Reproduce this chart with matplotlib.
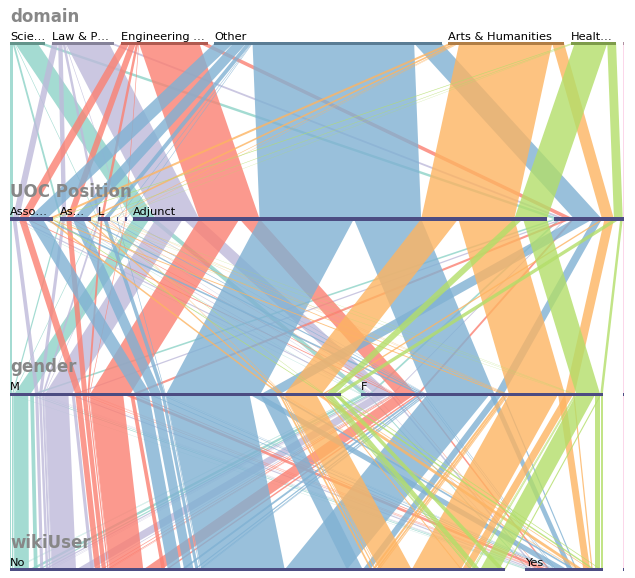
import numpy as np
import matplotlib.pyplot as plt
from matplotlib.patches import Polygon, Rectangle
from matplotlib.colors import to_rgb

# dimension names and category labels (as they appear, truncated)
dimensions = ['domain', 'UOC Position', 'gender', 'wikiUser']
domain_labels = ['Scie…', 'Law & P…', 'Engineering …', 'Other', 'Arts & Humanities', 'Healt…', '']
position_labels = ['Asso…', 'As…', 'L', '', '', 'Adjunct', '']
gender_labels = ['M', 'F', '']
wiki_labels = ['No', 'Yes', '']

domain_colors = ['#8dd3c7', '#bebada', '#fb8072', '#80b1d3', '#fdb462', '#b3de69', '#fccde5']

# counts per domain (rows) x position (cols: Asso, As, L, ?, ?, Adjunct, none)
male = [
    [3, 2, 1, 0, 0, 26, 8],
    [6, 5, 3, 0, 1, 43, 6],
    [11, 8, 3, 0, 1, 64, 9],
    [24, 17, 6, 1, 0, 150, 30],
    [4, 3, 1, 0, 0, 59, 4],
    [2, 1, 0, 0, 0, 14, 10],
    [0, 0, 0, 0, 0, 0, 0],
]
female = [
    [1, 1, 0, 0, 0, 10, 4],
    [4, 2, 1, 0, 0, 26, 2],
    [3, 2, 1, 0, 0, 32, 4],
    [6, 4, 2, 0, 1, 107, 14],
    [4, 3, 1, 1, 0, 89, 15],
    [1, 1, 1, 0, 0, 38, 4],
    [0, 0, 0, 0, 0, 0, 0],
]
no_gender = [
    [0, 0, 0, 0, 0, 0, 0],
    [0, 0, 0, 0, 0, 0, 0],
    [0, 0, 0, 0, 0, 0, 0],
    [0, 0, 0, 0, 0, 0, 0],
    [0, 0, 0, 0, 0, 0, 0],
    [0, 0, 0, 0, 0, 0, 0],
    [0, 0, 0, 0, 0, 0, 2],
]
# wiki users among them
wiki_yes_male = [
    [1, 0, 0, 0, 0, 3, 2],
    [1, 1, 0, 0, 0, 5, 1],
    [2, 1, 1, 0, 0, 11, 3],
    [3, 2, 1, 0, 0, 17, 5],
    [1, 1, 0, 0, 0, 8, 2],
    [0, 0, 0, 0, 0, 4, 2],
    [0, 0, 0, 0, 0, 0, 0],
]
wiki_yes_female = [
    [0, 0, 0, 0, 0, 2, 0],
    [0, 1, 0, 0, 0, 3, 0],
    [1, 0, 0, 0, 0, 3, 0],
    [1, 1, 0, 0, 0, 8, 2],
    [0, 0, 0, 0, 0, 11, 2],
    [0, 0, 0, 0, 0, 8, 2],
    [0, 0, 0, 0, 0, 0, 0],
]

# leaf paths (domain, position, gender, wiki) -> count
leaves = []
for d in range(7):
    for p in range(7):
        for g, cnt, yes in [(0, male, wiki_yes_male), (1, female, wiki_yes_female)]:
            n = cnt[d][p]
            y = yes[d][p]
            if n - y > 0:
                leaves.append(((d, p, g, 0), n - y))
            if y > 0:
                leaves.append(((d, p, g, 1), y))
        if no_gender[d][p] > 0:
            leaves.append(((d, p, 2, 2), no_gender[d][p]))

labels = [domain_labels, position_labels, gender_labels, wiki_labels]
ncats = [len(l) for l in labels]
total = sum(c for _, c in leaves)

left, right, pad = 10, 624, 40
k = (right - left - pad) / total
axis_y = [43.5, 219, 394.5, 569.5]

# category start positions on each axis
cat_start = []
cat_width = []
for j in range(4):
    counts = np.zeros(ncats[j])
    for path, c in leaves:
        counts[path[j]] += c
    gap = pad / (ncats[j] - 1)
    starts, x = [], left
    for c in counts:
        starts.append(x)
        x += c * k + gap
    cat_start.append(starts)
    cat_width.append(counts * k)

fig = plt.figure(figsize=(6.35, 5.78), dpi=100)
ax = fig.add_axes([0, 0, 1, 1])
ax.set_xlim(0, 635)
ax.set_ylim(578, 0)
ax.axis('off')

for i in range(3):
    nodes = {}
    for path, c in leaves:
        key = path[:i + 2]
        nodes[key] = nodes.get(key, 0) + c
    # source side: inside a category, ordered by incoming path then next category
    src = {}
    off = {}
    for key in sorted(nodes, key=lambda q: (q[i], q[:i], q[i + 1])):
        o = off.get(key[i], 0)
        src[key] = cat_start[i][key[i]] + o
        off[key[i]] = o + nodes[key] * k
    # target side: ordered by full incoming path
    tgt = {}
    off = {}
    for key in sorted(nodes, key=lambda q: (q[i + 1], q[:i + 1])):
        o = off.get(key[i + 1], 0)
        tgt[key] = cat_start[i + 1][key[i + 1]] + o
        off[key[i + 1]] = o + nodes[key] * k
    for key in sorted(nodes):
        w = nodes[key] * k
        y0, y1 = axis_y[i], axis_y[i + 1]
        poly = Polygon([(src[key], y0), (src[key] + w, y0),
                        (tgt[key] + w, y1), (tgt[key], y1)],
                       closed=True, facecolor=domain_colors[key[0]],
                       edgecolor='none', alpha=0.8, zorder=1)
        ax.add_patch(poly)

# axis bars and labels
for j in range(4):
    for c in range(ncats[j]):
        if j == 0:
            col = tuple(v * 0.7 for v in to_rgb(domain_colors[c]))
        else:
            col = '#4c4c82'
        ax.add_patch(Rectangle((cat_start[j][c], axis_y[j] - 1.7), cat_width[j][c], 3.4,
                               facecolor=col, edgecolor='none', zorder=3))
        ax.text(cat_start[j][c], axis_y[j] - 4, labels[j][c], fontsize=8.2,
                color='black', ha='left', va='baseline', zorder=4)
    ax.text(left, axis_y[j] - 22, dimensions[j], fontsize=12, fontweight='bold',
            color='#878787', ha='left', va='baseline', zorder=4)

plt.savefig('out.png', dpi=100)
